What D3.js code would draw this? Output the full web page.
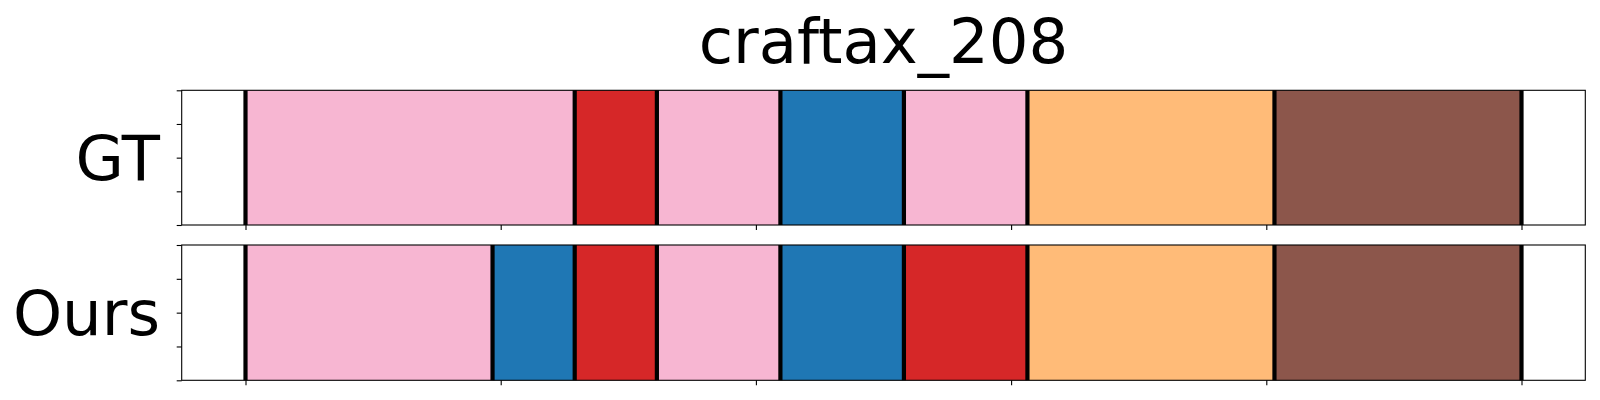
<!DOCTYPE html>
<html>
<head>
<meta charset="utf-8">
<script src="https://cdn.jsdelivr.net/npm/d3@7"></script>
<style>
  html, body { margin: 0; padding: 0; background: #ffffff; }
  svg { display: block; }
</style>
</head>
<body>
<svg id="chart" width="1600" height="400"></svg>
<script>
// ---- data ----
const title = "craftax_208";
const rowLabels = ["GT", "Ours"];
const xTickValues = [0, 50, 100, 150, 200, 250];
const yTickValues = [0, 0.25, 0.5, 0.75, 1];
const xDomain = [-12.5, 262.5];

const gtBounds = [0, 64.5, 80.6, 104.8, 129.0, 153.2, 201.6, 250];
const gtClasses = ["pink", "red", "pink", "blue", "pink", "orange", "brown"];

const oursBounds = [0, 48.4, 64.5, 80.6, 104.8, 129.0, 153.2, 201.6, 250];
const oursClasses = ["pink", "blue", "red", "pink", "blue", "red", "orange", "brown"];

const classNames = ["pink", "red", "blue", "orange", "brown"];
const classColors = ["#f7b6d2", "#d62728", "#1f77b4", "#ffbb78", "#8c564b"];

// ---- layout ----
const svg = d3.select("#chart");
const left = 181.7, right = 1585.3;
const fs = 62.5;
const panels = [
  { label: rowLabels[0], bounds: gtBounds, classes: gtClasses, top: 90.3, bottom: 225 },
  { label: rowLabels[1], bounds: oursBounds, classes: oursClasses, top: 245, bottom: 380.3 }
];

const x = d3.scaleLinear().domain(xDomain).range([left, right]);
const color = d3.scaleOrdinal().domain(classNames).range(classColors);
const font = "DejaVu Sans, Liberation Sans, sans-serif";

svg.append("text")
  .attr("x", (left + right) / 2)
  .attr("y", 63)
  .attr("text-anchor", "middle")
  .attr("font-family", font)
  .attr("font-size", fs)
  .attr("fill", "#000")
  .text(title);

panels.forEach(p => {
  const y = d3.scaleLinear().domain([0, 1]).range([p.bottom, p.top]);
  const g = svg.append("g");

  const segs = p.classes.map((c, i) => ({ c, x0: p.bounds[i], x1: p.bounds[i + 1] }));
  g.selectAll("rect.seg").data(segs).enter().append("rect")
    .attr("class", "seg")
    .attr("x", d => x(d.x0))
    .attr("width", d => x(d.x1) - x(d.x0))
    .attr("y", y(1))
    .attr("height", y(0) - y(1))
    .attr("fill", d => color(d.c));

  g.selectAll("line.bd").data(p.bounds).enter().append("line")
    .attr("class", "bd")
    .attr("x1", d => x(d)).attr("x2", d => x(d))
    .attr("y1", y(1)).attr("y2", y(0))
    .attr("stroke", "#000")
    .attr("stroke-width", 4.2);

  const xAxis = d3.axisBottom(x).tickValues(xTickValues).tickSize(5).tickFormat("");
  const gx = g.append("g").attr("transform", `translate(0,${p.bottom})`).call(xAxis);
  gx.select(".domain").remove();
  gx.selectAll(".tick line").attr("stroke", "#000").attr("stroke-width", 1.1);

  const yAxis = d3.axisLeft(y).tickValues(yTickValues).tickSize(5).tickFormat("");
  const gy = g.append("g").attr("transform", `translate(${left},0)`).call(yAxis);
  gy.select(".domain").remove();
  gy.selectAll(".tick line").attr("stroke", "#000").attr("stroke-width", 1.1);

  g.append("rect")
    .attr("x", left).attr("y", p.top)
    .attr("width", right - left).attr("height", p.bottom - p.top)
    .attr("fill", "none").attr("stroke", "#000").attr("stroke-width", 1.1);

  const cy = (p.top + p.bottom) / 2;
  svg.append("text")
    .attr("x", 160)
    .attr("y", cy + 0.36 * fs)
    .attr("text-anchor", "end")
    .attr("font-family", font)
    .attr("font-size", fs)
    .attr("fill", "#000")
    .text(p.label);
});
</script>
</body>
</html>
